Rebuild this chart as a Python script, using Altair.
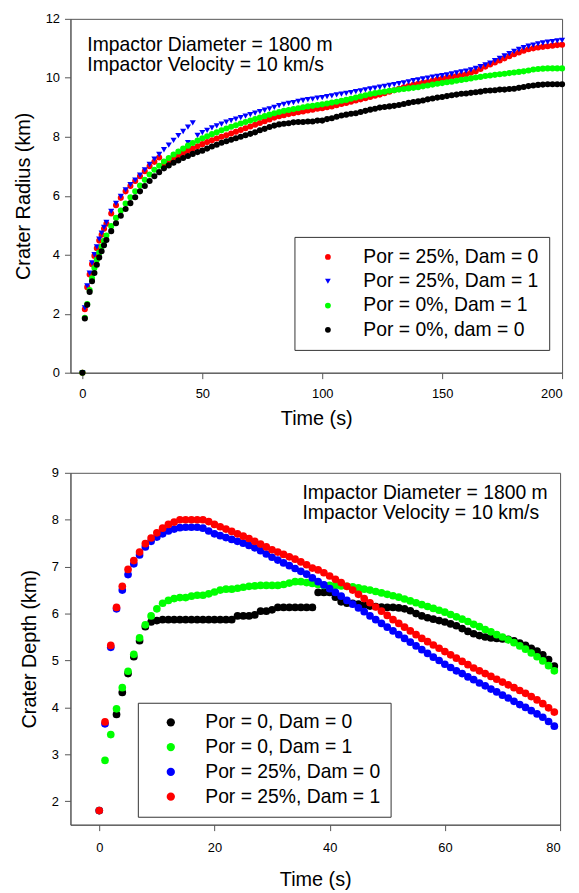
import altair as alt
import pandas as pd

FONT = "Liberation Sans"

# ---------------- Top panel: crater radius ----------------
TOP_LABELS = ["Por = 25%, Dam = 0", "Por = 25%, Dam = 1", "Por = 0%, Dam = 1", "Por = 0%, dam = 0"]
TOP_COLORS = ["#ff0000", "#0000ff", "#00ff00", "#000000"]
TOP_SHAPES = ["circle", "triangle-down", "circle", "circle"]

T_TOP = [0, 1, 2, 3, 4, 5, 6, 7, 8, 9, 10] + list(range(12, 201, 2))

RED_TOP = [0, 2.15, 2.9, 3.33, 3.68, 3.96, 4.22, 4.48, 4.68, 4.88, 5.05,
           5.4, 5.68, 5.93, 6.15, 6.33, 6.5, 6.66, 6.83, 7.0, 7.15, 7.3,
           7.05, 7.15, 7.25, 7.35, 7.45, 7.53, 7.6, 7.68, 7.75,
           7.82, 7.88, 7.94, 8.0, 8.05, 8.11, 8.17, 8.23, 8.29, 8.35,
           8.41, 8.47, 8.53, 8.59, 8.65, 8.7, 8.73, 8.77, 8.8, 8.83,
           8.86, 8.89, 8.92, 8.95, 8.97, 9.0, 9.03, 9.07, 9.11, 9.15,
           9.19, 9.23, 9.27, 9.31, 9.35, 9.39, 9.43, 9.48, 9.53, 9.58,
           9.63, 9.68, 9.72, 9.76, 9.8, 9.83, 9.86, 9.9, 9.94, 9.97,
           10.0, 10.03, 10.06, 10.09, 10.12, 10.17, 10.22, 10.3, 10.38, 10.45,
           10.52, 10.59, 10.66, 10.73, 10.8, 10.86, 10.92, 10.97, 11.0, 11.03,
           11.05, 11.07, 11.09, 11.11, 11.12]

BLUE_TOP = [0, 2.2, 2.94, 3.38, 3.72, 4.0, 4.27, 4.53, 4.73, 4.93, 5.1,
            5.47, 5.74, 5.98, 6.2, 6.38, 6.53, 6.7, 6.88, 7.06, 7.24,
            7.4, 7.56, 7.72, 7.88, 8.04, 8.18, 8.33, 8.47, 8.05, 8.14,
            8.22, 8.3, 8.37, 8.43, 8.5, 8.55, 8.6, 8.65, 8.7, 8.75,
            8.8, 8.85, 8.9, 8.95, 9.0, 9.06, 9.1, 9.13, 9.16, 9.2,
            9.23, 9.26, 9.28, 9.31, 9.33, 9.36, 9.39, 9.42, 9.45, 9.47,
            9.5, 9.53, 9.56, 9.59, 9.62, 9.65, 9.68, 9.71, 9.74, 9.77,
            9.8, 9.83, 9.86, 9.9, 9.93, 9.96, 9.99, 10.02, 10.05, 10.07,
            10.1, 10.13, 10.17, 10.2, 10.23, 10.27, 10.32, 10.38, 10.44, 10.5,
            10.58, 10.66, 10.74, 10.82, 10.9, 10.96, 11.02, 11.07, 11.11, 11.15,
            11.18, 11.21, 11.23, 11.25, 11.27]
BLUE_EXTRA_T = [44]
BLUE_EXTRA_V = [7.8]

GREEN_TOP = [0, 1.86, 2.33, 2.8, 3.2, 3.55, 3.83, 4.07, 4.28, 4.47, 4.65,
             4.97, 5.25, 5.5, 5.74, 5.95, 6.15, 6.35, 6.54, 6.72, 6.88,
             7.02, 7.16, 7.28, 7.4, 7.5, 7.6, 7.7, 7.79, 7.87, 7.95,
             8.02, 8.09, 8.15, 8.22, 8.28, 8.34, 8.39, 8.45, 8.5, 8.55,
             8.6, 8.65, 8.7, 8.75, 8.8, 8.84, 8.88, 8.91, 8.94, 8.97,
             9.0, 9.03, 9.05, 9.08, 9.1, 9.13, 9.16, 9.19, 9.22, 9.25,
             9.29, 9.33, 9.37, 9.41, 9.45, 9.48, 9.51, 9.53, 9.56, 9.58,
             9.6, 9.62, 9.64, 9.66, 9.68, 9.71, 9.74, 9.77, 9.8, 9.82,
             9.85, 9.87, 9.9, 9.93, 9.95, 9.98, 10.01, 10.03, 10.06, 10.08,
             10.1, 10.12, 10.14, 10.16, 10.18, 10.2, 10.22, 10.25, 10.28, 10.3,
             10.31, 10.32, 10.32, 10.32, 10.32]

BLACK_TOP = [0, 1.84, 2.3, 2.74, 3.1, 3.38, 3.66, 3.91, 4.12, 4.32, 4.5,
             4.8, 5.07, 5.32, 5.55, 5.75, 5.95, 6.15, 6.33, 6.5, 6.66,
             6.8, 6.93, 7.03, 7.12, 7.2, 7.28, 7.35, 7.42, 7.48, 7.53,
             7.6, 7.67, 7.73, 7.8, 7.85, 7.9, 7.95, 8.0, 8.05, 8.1,
             8.15, 8.22, 8.27, 8.33, 8.38, 8.42, 8.44, 8.46, 8.49, 8.5,
             8.5, 8.52, 8.52, 8.55, 8.55, 8.6, 8.63, 8.68, 8.72, 8.75,
             8.78, 8.8, 8.84, 8.88, 8.92, 8.95, 8.99, 9.01, 9.03, 9.05,
             9.08, 9.11, 9.15, 9.18, 9.2, 9.23, 9.27, 9.3, 9.33, 9.35,
             9.38, 9.41, 9.43, 9.46, 9.47, 9.49, 9.51, 9.53, 9.56, 9.57,
             9.58, 9.6, 9.6, 9.62, 9.63, 9.66, 9.69, 9.72, 9.74, 9.76,
             9.77, 9.78, 9.78, 9.78, 9.78]

# ---------------- Bottom panel: crater depth ----------------
BOT_LABELS = ["Por = 0, Dam = 0", "Por = 0, Dam = 1", "Por = 25%, Dam = 0", "Por = 25%, Dam = 1"]
BOT_COLORS = ["#000000", "#00ff00", "#0000ff", "#ff0000"]

T_BOT = list(range(0, 80))
T_BLACK_BOT = list(range(3, 80))

BLACK_BOT = [3.85, 4.32, 4.72, 5.08, 5.42, 5.72, 5.82, 5.85, 5.87, 5.87,
             5.87, 5.87, 5.87, 5.87, 5.87, 5.87, 5.87, 5.87, 5.87, 5.87,
             5.87, 5.95, 5.95, 5.95, 5.97, 6.05, 6.05, 6.08, 6.13, 6.13,
             6.13, 6.13, 6.13, 6.13, 6.13, 6.45, 6.45, 6.45, 6.35, 6.25,
             6.22, 6.22, 6.2, 6.18, 6.16, 6.15, 6.14, 6.13, 6.13, 6.12,
             6.1, 6.06, 6.0, 5.95, 5.91, 5.88, 5.85, 5.82, 5.78, 5.74,
             5.68, 5.62, 5.57, 5.53, 5.5, 5.48, 5.47, 5.46, 5.45, 5.42,
             5.37, 5.32, 5.26, 5.2, 5.12, 5.02, 4.88]

GREEN_BOT = [1.8, 2.87, 3.42, 3.97, 4.42, 4.77, 5.13, 5.48, 5.76, 5.95,
             6.1, 6.22, 6.28, 6.32, 6.34, 6.34, 6.37, 6.39, 6.39, 6.42,
             6.46, 6.5, 6.52, 6.52, 6.54, 6.56, 6.58, 6.59, 6.6, 6.6,
             6.6, 6.6, 6.62, 6.65, 6.68, 6.68, 6.66, 6.64, 6.62, 6.6,
             6.6, 6.6, 6.59, 6.58, 6.57, 6.55, 6.52, 6.5, 6.47, 6.44,
             6.41, 6.38, 6.35, 6.31, 6.27, 6.23, 6.19, 6.15, 6.11, 6.07,
             6.03, 5.98, 5.93, 5.88, 5.83, 5.77, 5.72, 5.66, 5.61, 5.55,
             5.5, 5.44, 5.38, 5.31, 5.24, 5.16, 5.08, 4.99, 4.89, 4.78]

BLUE_BOT = [1.8, 3.65, 5.28, 6.1, 6.5, 6.83, 7.06, 7.25, 7.42, 7.54,
            7.63, 7.7, 7.76, 7.8, 7.83, 7.84, 7.84, 7.84, 7.82, 7.76,
            7.7, 7.66, 7.62, 7.58, 7.54, 7.5, 7.45, 7.4, 7.34, 7.27,
            7.2, 7.14, 7.08, 7.02, 6.96, 6.9, 6.84, 6.76, 6.68, 6.61,
            6.53, 6.45, 6.37, 6.28, 6.2, 6.12, 6.04, 5.95, 5.87, 5.79,
            5.71, 5.63, 5.55, 5.47, 5.39, 5.31, 5.23, 5.15, 5.07, 5.0,
            4.92, 4.85, 4.78, 4.72, 4.65, 4.59, 4.52, 4.46, 4.39, 4.33,
            4.26, 4.2, 4.13, 4.06, 4.0, 3.93, 3.86, 3.79, 3.7, 3.6]

RED_BOT = [1.8, 3.69, 5.32, 6.13, 6.58, 6.94, 7.13, 7.31, 7.49, 7.61,
           7.72, 7.82, 7.9, 7.95, 8.0, 8.0, 8.0, 8.0, 8.0, 7.96,
           7.9, 7.85, 7.8, 7.75, 7.7, 7.65, 7.6, 7.54, 7.48, 7.42,
           7.36, 7.31, 7.26, 7.21, 7.16, 7.1, 7.04, 6.97, 6.93, 6.87,
           6.8, 6.73, 6.66, 6.58, 6.5, 6.41, 6.32, 6.23, 6.14, 6.05,
           5.96, 5.87, 5.79, 5.71, 5.63, 5.55, 5.47, 5.4, 5.33, 5.26,
           5.19, 5.12, 5.05, 4.98, 4.91, 4.84, 4.78, 4.72, 4.66, 4.6,
           4.54, 4.48, 4.42, 4.36, 4.3, 4.23, 4.16, 4.08, 3.99, 3.9]

ANNOT = "Impactor Diameter = 1800 m\nImpactor Velocity = 10 km/s"


def frame(series, label_field, val_field):
    rows = []
    for lab, times, vals in series:
        for t, v in zip(times, vals):
            rows.append({"t": t, val_field: v, label_field: lab})
    return pd.DataFrame(rows)


top_df = frame([
    (TOP_LABELS[0], T_TOP, RED_TOP),
    (TOP_LABELS[1], T_TOP + BLUE_EXTRA_T, BLUE_TOP + BLUE_EXTRA_V),
    (TOP_LABELS[2], T_TOP, GREEN_TOP),
    (TOP_LABELS[3], T_TOP, BLACK_TOP),
], "sr", "radius")

bot_df = frame([
    (BOT_LABELS[0], T_BLACK_BOT, BLACK_BOT),
    (BOT_LABELS[1], T_BOT, GREEN_BOT),
    (BOT_LABELS[2], T_BOT, BLUE_BOT),
    (BOT_LABELS[3], T_BOT, RED_BOT),
], "sd", "depth")

top_legend = alt.Legend(title=None, orient="none", legendX=226, legendY=220,
                        labelFont=FONT, labelFontSize=19.5, labelColor="black", labelLimit=400,
                        symbolSize=34, symbolStrokeWidth=0, padding=10.5, rowPadding=3.5,
                        symbolOffset=13.5, labelOffset=26,
                        strokeColor="#333333", fillColor="white")

top_pts = alt.Chart(top_df).mark_point(filled=True, opacity=1, size=38).encode(
    x=alt.X("t:Q", scale=alt.Scale(domain=[-5, 200], nice=False, zero=False),
            axis=alt.Axis(values=[0, 50, 100, 150, 200], title="Time (s)",
                          labelPadding=9, titlePadding=8)),
    y=alt.Y("radius:Q", scale=alt.Scale(domain=[0, 12], nice=False),
            axis=alt.Axis(values=[0, 2, 4, 6, 8, 10, 12], title="Crater Radius (km)",
                          labelPadding=5, titlePadding=12)),
    color=alt.Color("sr:N", scale=alt.Scale(domain=TOP_LABELS, range=TOP_COLORS), legend=top_legend),
    shape=alt.Shape("sr:N", scale=alt.Scale(domain=TOP_LABELS, range=TOP_SHAPES), legend=top_legend),
)

top_txt = alt.Chart(pd.DataFrame({"txt": [ANNOT]})).mark_text(
    align="left", baseline="alphabetic", fontSize=19.5, font=FONT, lineBreak="\n",
    lineHeight=21, color="black"
).encode(text="txt:N", x=alt.value(17), y=alt.value(32))

top = alt.layer(top_pts, top_txt).properties(width=496, height=357)

bot_legend = alt.Legend(title=None, orient="none", legendX=68, legendY=232,
                        labelFont=FONT, labelFontSize=19.5, labelColor="black", labelLimit=400,
                        symbolType="circle", symbolSize=70, symbolStrokeWidth=0,
                        padding=10, rowPadding=4, symbolOffset=13.5, labelOffset=25,
                        strokeColor="#333333", fillColor="white")

bot_pts = alt.Chart(bot_df).mark_point(filled=True, opacity=1, size=60, shape="circle").encode(
    x=alt.X("t:Q", scale=alt.Scale(domain=[-5, 80], nice=False, zero=False),
            axis=alt.Axis(values=[0, 20, 40, 60, 80], title="Time (s)",
                          labelPadding=11, titlePadding=15)),
    y=alt.Y("depth:Q", scale=alt.Scale(domain=[1.5, 9], nice=False, zero=False),
            axis=alt.Axis(values=[2, 3, 4, 5, 6, 7, 8, 9], title="Crater Depth (km)",
                          labelPadding=6, titlePadding=12)),
    color=alt.Color("sd:N", scale=alt.Scale(domain=BOT_LABELS, range=BOT_COLORS), legend=bot_legend),
)

bot_txt = alt.Chart(pd.DataFrame({"txt": [ANNOT]})).mark_text(
    align="left", baseline="alphabetic", fontSize=19.5, font=FONT, lineBreak="\n",
    lineHeight=21, color="black"
).encode(text="txt:N", x=alt.value(234), y=alt.value(26))

bottom = alt.layer(bot_pts, bot_txt).properties(width=494, height=355)

chart = alt.vconcat(top, bottom, spacing=37).resolve_scale(
    color="independent", shape="independent"
).resolve_legend(color="independent", shape="independent").configure(
    font=FONT, padding={"left": 5, "top": 0, "right": 5, "bottom": 0}
).configure_axis(
    labelFont=FONT, labelFontSize=13, labelColor="black",
    titleFont=FONT, titleFontSize=20, titleFontWeight="normal", titleColor="black",
    domainColor="#555555", tickColor="#555555", tickSize=6, grid=False
).configure_view(stroke="#555555", strokeWidth=1)

chart.save("out.html", embed_options={"renderer": "svg", "actions": False})
